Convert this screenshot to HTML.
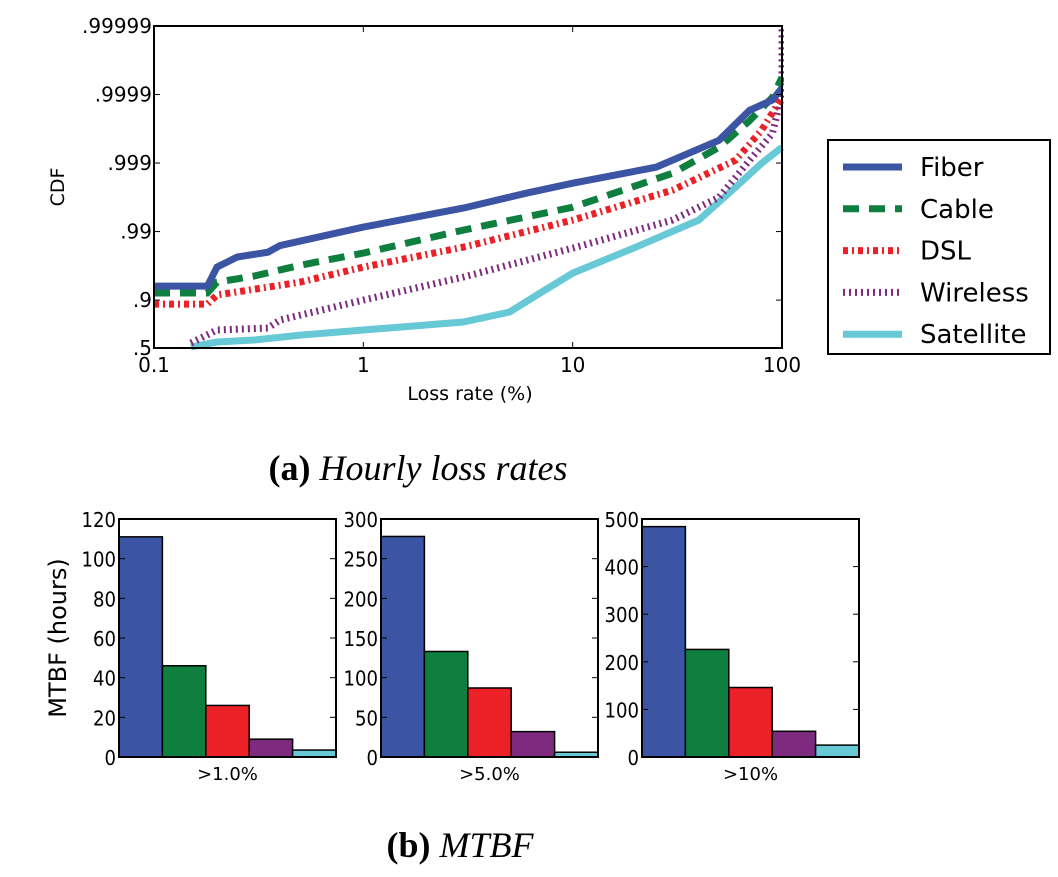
<!DOCTYPE html>
<html><head><meta charset="utf-8"><style>
body{margin:0;background:#fff;width:1058px;height:872px;overflow:hidden}
svg text{font-family:"DejaVu Sans","Liberation Sans",sans-serif}
</style></head><body>
<svg id="s" width="1058" height="872">
<g id="cdf"></g>
<g id="bars"></g>
<text x="418" y="480" text-anchor="middle" font-size="36" style="font-family:'Liberation Serif',serif"><tspan font-weight="bold">(a)</tspan><tspan font-style="italic"> Hourly loss rates</tspan></text>
<text x="460" y="857" text-anchor="middle" font-size="36" style="font-family:'Liberation Serif',serif"><tspan font-weight="bold">(b)</tspan><tspan font-style="italic"> MTBF</tspan></text>
</svg>
<script>
const NS='http://www.w3.org/2000/svg';
function mk(p,t,a,txt){const e=document.createElementNS(NS,t);for(const k in a)e.setAttribute(k,a[k]);if(txt!==undefined)e.textContent=txt;p.appendChild(e);return e;}
const seriesNames=['Fiber','Cable','DSL','Wireless','Satellite'];
const colors=['#3b54a3','#0f7f3f','#ec2027','#7e2a7e','#67c8d6'];
const dashes=['none','16 10','5 4 2 4','2 4','none'];
const xTicks=[0.1,1,10,100];
const xTickLabels=['0.1','1','10','100'];
const yTicks=[0.5,0.9,0.99,0.999,0.9999,0.99999];
const yTickLabels=['.5','.9','.99','.999','.9999','.99999'];
const fiberX=[0.1,0.18,0.2,0.25,0.35,0.4,1,3,6,10,25,50,70,90,100];
const fiberY=[0.9376,0.9376,0.967,0.9765,0.980,0.984,0.99139,0.99545,0.99725,0.99803,0.99885,0.999535,0.99983,0.99988,0.99992];
const cableX=[0.1,0.18,0.2,0.3,0.5,1,3,10,30,50,70,90,100];
const cableY=[0.9212,0.9212,0.9454,0.9554,0.969,0.9794,0.99047,0.99559,0.99859,0.99941,0.99976,0.99989,0.999944];
const dslX=[0.1,0.18,0.2,0.5,1,3,10,30,60,80,100];
const dslY=[0.8857,0.8857,0.9157,0.9454,0.967,0.9831,0.99319,0.99751,0.99909,0.99967,0.99989];
const wirelessX=[0.15,0.2,0.35,0.4,1,3,10,30,50,70,90,99.9,100];
const wirelessY=[0.5773,0.7265,0.745,0.805,0.9,0.9539,0.9826,0.99319,0.99684,0.99909,0.99963,0.9999,0.99999];
const satelliteX=[0.15,0.2,0.3,0.5,1,3,5,7,10,20,40,60,80,100];
const satelliteY=[0.517,0.591,0.618,0.676,0.7265,0.791,0.8507,0.9212,0.9596,0.9831,0.99319,0.99775,0.998995,0.99941];
const allX=[fiberX,cableX,dslX,wirelessX,satelliteX],allY=[fiberY,cableY,dslY,wirelessY,satelliteY];
const L=154,R=782,T=26,B=348;
const xs=v=>L+(Math.log10(v)+1)/3*(R-L);
const nines=p=>-Math.log10(1-p);
const ys=p=>B-(nines(p)-nines(0.5))/(5-nines(0.5))*(B-T);
const g=document.getElementById('cdf');
const clip=mk(g,'clipPath',{id:'cl'});mk(clip,'rect',{x:L,y:T-2,width:R-L+2,height:B-T+4});
for(let i=4;i>=0;i--){
 const d=allX[i].map((x,j)=>(j?'L':'M')+xs(x).toFixed(1)+','+ys(allY[i][j]).toFixed(1)).join('');
 const p=mk(g,'path',{d:d,fill:'none',stroke:colors[i],'stroke-width':7,'stroke-dasharray':dashes[i],'clip-path':'url(#cl)'});
 
 
}
const fr=mk(g,'rect',{x:L,y:T,width:R-L,height:B-T,fill:'none',stroke:'#000','stroke-width':2});

xTicks.forEach((v,i)=>{const x=xs(v);mk(g,'line',{x1:x,x2:x,y1:B,y2:B-6,stroke:'#000'});mk(g,'line',{x1:x,x2:x,y1:T,y2:T+6,stroke:'#000'});
 const t=mk(g,'text',{x:x,y:B+24,'text-anchor':'middle','font-size':20},xTickLabels[i]);
 });
yTicks.forEach((v,i)=>{const y=ys(v);mk(g,'line',{x1:L,x2:L+6,y1:y,y2:y,stroke:'#000'});mk(g,'line',{x1:R,x2:R-6,y1:y,y2:y,stroke:'#000'});
 const t=mk(g,'text',{x:L-2,y:y+7,'text-anchor':'end','font-size':20},yTickLabels[i]);
 });
let t=mk(g,'text',{x:470,y:400,'text-anchor':'middle','font-size':19},'Loss rate (%)');

t=mk(g,'text',{x:64,y:187,'text-anchor':'middle','font-size':19,transform:'rotate(-90 64 187)'},'CDF');

const lg=mk(g,'g',{});
mk(lg,'rect',{x:828,y:140,width:222,height:214,fill:'#fff',stroke:'#000','stroke-width':2});
seriesNames.forEach((n,i)=>{const y=167+i*41.8;
 const l=mk(lg,'line',{x1:843,x2:902,y1:y,y2:y,stroke:colors[i],'stroke-width':7,'stroke-dasharray':dashes[i]});
 
 const tx=mk(lg,'text',{x:920,y:y+9,'font-size':26},n);
 });
// bars
const panelLabels=['>1.0%','>5.0%','>10%'];
const panelMax=[120,300,500];
const panelTickStep=[20,50,100];
const mtbf1=[111,46,26,9,3.5];
const mtbf5=[278,133,87,32,6];
const mtbf10=[484,226,146,54,25];
const mtbf=[mtbf1,mtbf5,mtbf10];
const bg=document.getElementById('bars');
const pl=[119,381,642],pw=217,pT=519,pB=757;
mtbf.forEach((vals,k)=>{
 const x0=pl[k];const yv=v=>pB-v/panelMax[k]*(pB-pT);const bw=pw/vals.length;
 vals.forEach((v,i)=>{const r=mk(bg,'rect',{x:x0+i*bw,y:yv(v),width:bw,height:pB-yv(v),fill:colors[i],stroke:'#000','stroke-width':1.5});
  });
 const f=mk(bg,'rect',{x:x0,y:pT,width:pw,height:pB-pT,fill:'none',stroke:'#000','stroke-width':2});
 
 for(let v=0;v<=panelMax[k];v+=panelTickStep[k]){const y=yv(v);
  mk(bg,'line',{x1:x0,x2:x0+6,y1:y,y2:y,stroke:'#000'});mk(bg,'line',{x1:x0+pw,x2:x0+pw-6,y1:y,y2:y,stroke:'#000'});
  const tt=mk(bg,'text',{x:x0-3,y:y+8,'text-anchor':'end','font-size':20,textLength:(String(v).length*11.5),lengthAdjust:'spacingAndGlyphs'},String(v));
  }
 const xl=mk(bg,'text',{x:x0+pw/2,y:780,'text-anchor':'middle','font-size':18},panelLabels[k]);
 
});
t=mk(bg,'text',{x:66,y:638,'text-anchor':'middle','font-size':24,transform:'rotate(-90 66 638)'},'MTBF (hours)');

</script>
</body></html>
